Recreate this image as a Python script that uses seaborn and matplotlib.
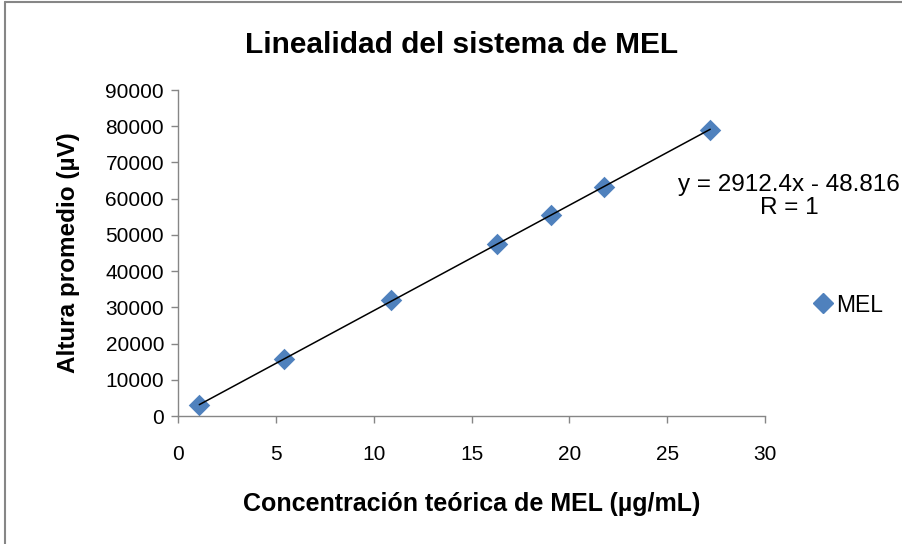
import numpy as np
import pandas as pd
import matplotlib
matplotlib.use("Agg")
import matplotlib.pyplot as plt
import seaborn as sns
from matplotlib.lines import Line2D

concentracion = [1.088, 5.44, 10.88, 16.32, 19.04, 21.76, 27.2]
altura = [2900, 15800, 31900, 47600, 55500, 63200, 79000]
x_ticks = [0, 5, 10, 15, 20, 25, 30]
y_ticks = [0, 10000, 20000, 30000, 40000, 50000, 60000, 70000, 80000, 90000]

sns.set_theme(style="white")
plt.rcParams['font.family'] = ['Liberation Sans', 'DejaVu Sans']
plt.rcParams['text.color'] = 'black'
plt.rcParams['axes.labelcolor'] = 'black'

df = pd.DataFrame({"x": concentracion, "y": altura})

fig = plt.figure(figsize=(9.02, 5.44), dpi=100)
ax = fig.add_axes([178/902, 1-416/544, (765-178)/902, (416-90)/544])

blue = "#4F81BD"
sns.regplot(data=df, x="x", y="y", ax=ax, ci=None, truncate=True, marker="D",
            scatter_kws=dict(s=120, color=blue, edgecolor=blue, linewidths=0, alpha=1, zorder=2),
            line_kws=dict(color="black", lw=1.1, zorder=3))

ax.set_xlim(0, 30)
ax.set_ylim(0, 90000)
ax.set_xticks(x_ticks)
ax.set_yticks(y_ticks)
ax.set_xticklabels([str(t) for t in x_ticks], fontsize=15)
ax.set_yticklabels([str(t) for t in y_ticks], fontsize=15)
for s in ["top", "right"]:
    ax.spines[s].set_visible(False)
for s in ["left", "bottom"]:
    ax.spines[s].set_color("#868686")
    ax.spines[s].set_linewidth(1.0)
ax.tick_params(axis="both", direction="out", length=5, width=1, color="#868686",
               labelcolor="black", bottom=True, left=True)
ax.tick_params(axis="x", pad=16)
ax.tick_params(axis="y", pad=5)

ax.set_xlabel("Concentración teórica de MEL (µg/mL)", fontsize=18, fontweight="bold", labelpad=20)
ax.set_ylabel("Altura promedio (µV)", fontsize=17.5, fontweight="bold", labelpad=18)

fig.text(462/902, 1-45/544, "Linealidad del sistema de MEL", ha="center", va="center",
         fontsize=21.5, fontweight="bold")

fig.text(789/902, 1-185/544, "y = 2912.4x - 48.816", ha="center", va="center", fontsize=17.5)
fig.text(789/902, 1-208/544, "R = 1", ha="center", va="center", fontsize=17.5)

handle = Line2D([0], [0], marker="D", color="none", markerfacecolor=blue, markeredgecolor=blue,
                markersize=10, linestyle="none")
fig.legend([handle], ["MEL"], loc="center left", bbox_to_anchor=(809/902, 1-305/544),
           frameon=False, fontsize=16.5, handletextpad=0.0, handlelength=1.2, borderaxespad=0,
           borderpad=0)

# outer chart border (top and left visible in the reference)
fig.add_artist(Line2D([5/902, 5/902], [0, 1-2/544], transform=fig.transFigure,
                      color="#868686", lw=1.5))
fig.add_artist(Line2D([5/902, 1], [1-2/544, 1-2/544], transform=fig.transFigure,
                      color="#868686", lw=1.5))

fig.savefig("out.png", dpi=100)
